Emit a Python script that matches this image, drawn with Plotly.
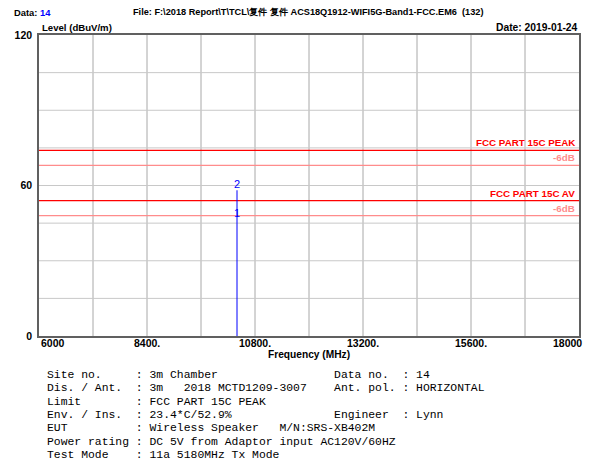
import plotly.graph_objects as go

# ---- data ----
trace_freq = [10400, 10400]
trace_level = [0, 58.1]
marker_ids = ["1", "2"]
marker_freq = [10400, 10400]
marker_level = [46.2, 58.1]
limit_names = ["FCC PART 15C PEAK", "FCC PART 15C AV"]
limit_levels = [74, 54]
limit_offset = -6
x_tickvals = [6000, 8400, 10800, 13200, 15600, 18000]
x_ticktext = ["6000", "8400.", "10800.", "13200.", "15600.", "18000"]
y_tickvals = [0, 60, 120]
info_labels = ["Site no.", "Dis. / Ant.", "Limit", "Env. / Ins.", "EUT", "Power rating", "Test Mode"]
info_values = ["3m Chamber", "3m   2018 MCTD1209-3007", "FCC PART 15C PEAK", "23.4*C/52.9%",
               "Wireless Speaker   M/N:SRS-XB402M", "DC 5V from Adaptor input AC120V/60HZ",
               "11a 5180MHz Tx Mode"]
info_labels2 = ["Data no.", "Ant. pol.", "", "Engineer", "", "", ""]
info_values2 = ["14", "HORIZONTAL", "", "Lynn", "", "", ""]

W, H = 598, 468
L, R, T, B = 39, 579, 35, 336
xmin, xmax, ymin, ymax = 6000, 18000, 0, 120

def px(x):
    return (x - L) / (R - L)

def py(y):
    return (B - y) / (B - T)

sans = "Liberation Sans, Arial"
mono = "Liberation Mono, Courier New, monospace"

fig = go.Figure()

for lvl in limit_levels:
    fig.add_trace(go.Scatter(x=[xmin, xmax], y=[lvl, lvl], mode="lines",
                             line=dict(color="#ff0000", width=1.2), hoverinfo="skip", showlegend=False))
    fig.add_trace(go.Scatter(x=[xmin, xmax], y=[lvl + limit_offset] * 2, mode="lines",
                             line=dict(color="#ff8c8c", width=1.2), hoverinfo="skip", showlegend=False))

fig.add_trace(go.Scatter(x=trace_freq, y=trace_level, mode="lines",
                         line=dict(color="#0000ff", width=1), showlegend=False))
fig.add_trace(go.Scatter(x=marker_freq, y=marker_level, mode="text", text=marker_ids,
                         textposition="top center",
                         textfont=dict(color="#0000ff", size=11, family=sans),
                         showlegend=False))

annotations = []
for name, lvl in zip(limit_names, limit_levels):
    annotations.append(dict(x=xmax, y=lvl, xref="x", yref="y", text="<b>" + name + "</b>",
                            showarrow=False, xanchor="right", yanchor="bottom", xshift=-2, yshift=0,
                            font=dict(color="#ff0000", size=9.8, family=sans)))
    annotations.append(dict(x=xmax, y=lvl + limit_offset, xref="x", yref="y", text="<b>-6dB</b>",
                            showarrow=False, xanchor="right", yanchor="bottom", xshift=-2, yshift=0,
                            font=dict(color="#ff8c8c", size=9.8, family=sans)))

# x tick labels (end labels sit inside the axis ends)
for v, t in zip(x_tickvals, x_ticktext):
    anchor = "center"
    shift = 0
    if v == xmin:
        anchor, shift = "left", 0
    elif v == xmax:
        anchor, shift = "right", 5
    annotations.append(dict(x=v, y=0, xref="x", yref="paper", text="<b>%s</b>" % t, showarrow=False,
                            xanchor=anchor, yanchor="middle", yshift=-7, xshift=shift,
                            font=dict(size=10.5, family=sans, color="#000")))

annotations += [
    dict(x=px(12), y=py(12), xref="paper", yref="paper", text="<b>Data: <span style='color:#0000ff'>14</span></b>",
         showarrow=False, xanchor="left", yanchor="middle", font=dict(size=9.4, family=sans, color="#000")),
    dict(x=px(131), y=py(12), xref="paper", yref="paper",
         text="<b>File: F:\\2018 Report\\T\\TCL\\复件 复件 ACS18Q1912-WIFI5G-Band1-FCC.EM6  (132)</b>",
         showarrow=False, xanchor="left", yanchor="middle", font=dict(size=9.2, family=sans, color="#000")),
    dict(x=px(40), y=py(27), xref="paper", yref="paper", text="<b>Level (dBuV/m)</b>",
         showarrow=False, xanchor="left", yanchor="middle", font=dict(size=9.6, family=sans, color="#000")),
    dict(x=px(580), y=py(27), xref="paper", yref="paper", text="<b>Date: 2019-01-24</b>",
         showarrow=False, xanchor="right", yanchor="middle", font=dict(size=10.3, family=sans, color="#000")),
    dict(x=px(309), y=py(354), xref="paper", yref="paper", text="<b>Frequency (MHz)</b>",
         showarrow=False, xanchor="center", yanchor="middle", font=dict(size=10.2, family=sans, color="#000")),
]

row_y = [375, 388, 401.5, 414.5, 428, 441.5, 455]
fs = 11.4
for i in range(len(info_labels)):
    line = info_labels[i].ljust(13) + ": " + info_values[i]
    if info_labels2[i]:
        line = line.ljust(42) + info_labels2[i].ljust(10) + ": " + info_values2[i]
    annotations.append(dict(x=px(45), y=py(row_y[i]), xref="paper", yref="paper",
                            text=line.replace(" ", "&nbsp;"),
                            showarrow=False, xanchor="left", yanchor="middle",
                            font=dict(size=fs, family=mono, color="#000")))

fig.update_layout(
    width=W, height=H,
    margin=dict(l=L, r=W - R, t=T, b=H - B, pad=0),
    paper_bgcolor="white", plot_bgcolor="white",
    annotations=annotations,
    xaxis=dict(range=[xmin, xmax], tickvals=x_tickvals, showticklabels=False,
               showgrid=False, zeroline=False, showline=True, linecolor="#606060", linewidth=1.5,
               mirror=True, ticks=""),
    yaxis=dict(range=[ymin, ymax], tickvals=y_tickvals, ticktext=["<b>%d</b>" % v for v in y_tickvals],
               showgrid=False, zeroline=False, showline=True, linecolor="#606060", linewidth=1.5,
               mirror=True, ticks="", ticklabelstandoff=3, tickfont=dict(size=10.5, family=sans, color="#000")),
    font=dict(family=sans),
)

shapes = []
for i in range(1, 10):
    xv = xmin + i * (xmax - xmin) / 10
    shapes.append(dict(type="line", xref="x", yref="y", x0=xv, x1=xv, y0=ymin, y1=ymax,
                       line=dict(color="#a8a8a8", width=1), layer="below"))
for i in range(1, 8):
    yv = ymin + i * (ymax - ymin) / 8
    shapes.append(dict(type="line", xref="x", yref="y", x0=xmin, x1=xmax, y0=yv, y1=yv,
                       line=dict(color="#c8c8c8", width=1), layer="below"))
fig.update_layout(shapes=shapes)

fig.write_html("out.html", config={"displayModeBar": False},
               post_script="document.body.style.margin='0';")
